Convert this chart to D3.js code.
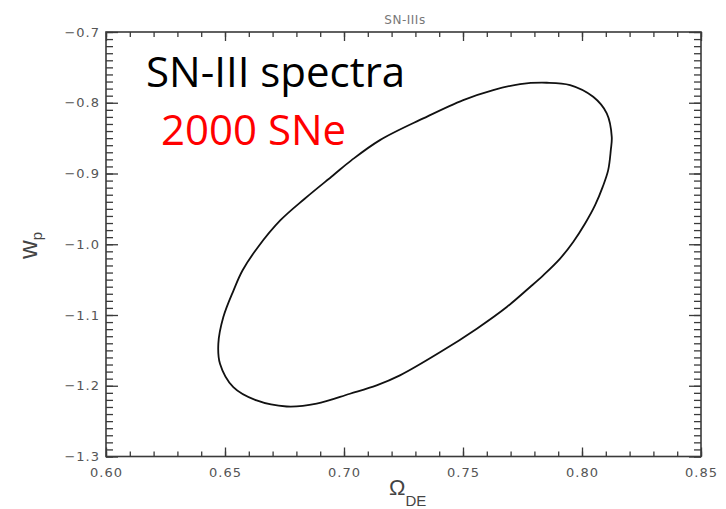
<!DOCTYPE html>
<html>
<head>
<meta charset="utf-8">
<script src="https://cdn.jsdelivr.net/npm/d3@7"></script>
<style>
  html, body { margin: 0; padding: 0; background: #fff; }
  svg { display: block; }
</style>
</head>
<body>
<svg id="chart" width="726" height="509"></svg>
<script>
// Confidence contour in the (Omega_DE, w_p) plane
const contourOmega = [0.7852, 0.7950, 0.8047, 0.8104, 0.8125, 0.8121, 0.8110, 0.8087, 0.8055,
  0.8013, 0.7963, 0.7908, 0.7837, 0.7782, 0.7684, 0.7558, 0.7403, 0.7235, 0.7137, 0.7025,
  0.6885, 0.6759, 0.6633, 0.6535, 0.6479, 0.6472, 0.6493, 0.6536, 0.6574, 0.6639, 0.6733,
  0.6836, 0.6955, 0.7032, 0.7151, 0.7333, 0.7501, 0.7627, 0.7740];
const contourW = [-0.7717, -0.7750, -0.7916, -0.8150, -0.8482, -0.8670, -0.8953, -0.9189, -0.9448,
  -0.9707, -0.9968, -1.0202, -1.0439, -1.0604, -1.0887, -1.1193, -1.1528, -1.1854, -1.1995, -1.2113,
  -1.2254, -1.2293, -1.2208, -1.2019, -1.1688, -1.1405, -1.1029, -1.0651, -1.0368, -1.0038, -0.9660,
  -0.9353, -0.9024, -0.8811, -0.8528, -0.8221, -0.7962, -0.7821, -0.7736];

const xMajorTicks = [0.60, 0.65, 0.70, 0.75, 0.80, 0.85];
const yMajorTicks = [-1.3, -1.2, -1.1, -1.0, -0.9, -0.8, -0.7];
const xMinorTicks = d3.range(0, 26).map(i => +(0.60 + i * 0.01).toFixed(2));
const yMinorTicks = d3.range(0, 61).map(i => +(-1.3 + i * 0.01).toFixed(2));

const plotTitle = "SN-IIIs";
const noteLine1 = "SN-III spectra";
const noteLine2 = "2000 SNe";

const plotLeft = 106, plotRight = 701, plotTop = 32, plotBottom = 456.5;
const svg = d3.select("#chart");

const x = d3.scaleLinear().domain([0.60, 0.85]).range([plotLeft, plotRight]);
const y = d3.scaleLinear().domain([-1.3, -0.7]).range([plotBottom, plotTop]);

const axisColor = "#3a3a3a";
const labelColor = "#555";
const fmt2 = d3.format(".2f");
const fmt1 = d => d3.format(".1f")(d).replace("-", "\u2212");

function styleAxis(g) {
  g.select(".domain").remove();
  g.selectAll(".tick line").attr("stroke", axisColor).attr("stroke-width", 1.3);
  g.selectAll(".tick text")
    .attr("fill", labelColor)
    .style("font-family", "'DejaVu Sans', sans-serif")
    .style("font-size", "13px")
    .style("letter-spacing", "1px");
}

// minor ticks on all four sides
svg.append("g").attr("transform", `translate(0,${plotBottom})`)
  .call(d3.axisBottom(x).tickValues(xMinorTicks).tickSize(-5).tickFormat(""))
  .call(styleAxis);
svg.append("g").attr("transform", `translate(0,${plotTop})`)
  .call(d3.axisTop(x).tickValues(xMinorTicks).tickSize(-5).tickFormat(""))
  .call(styleAxis);
svg.append("g").attr("transform", `translate(${plotLeft},0)`)
  .call(d3.axisLeft(y).tickValues(yMinorTicks).tickSize(-7).tickFormat(""))
  .call(styleAxis);
svg.append("g").attr("transform", `translate(${plotRight},0)`)
  .call(d3.axisRight(y).tickValues(yMinorTicks).tickSize(-7).tickFormat(""))
  .call(styleAxis);

// major ticks and labels
svg.append("g").attr("transform", `translate(0,${plotBottom})`)
  .call(d3.axisBottom(x).tickValues(xMajorTicks).tickSize(-9).tickPadding(11.5).tickFormat(fmt2))
  .call(styleAxis);
svg.append("g").attr("transform", `translate(0,${plotTop})`)
  .call(d3.axisTop(x).tickValues(xMajorTicks).tickSize(-9).tickFormat(""))
  .call(styleAxis);
svg.append("g").attr("transform", `translate(${plotLeft},0)`)
  .call(d3.axisLeft(y).tickValues(yMajorTicks).tickSize(-12).tickPadding(6).tickFormat(fmt1))
  .call(styleAxis);
svg.append("g").attr("transform", `translate(${plotRight},0)`)
  .call(d3.axisRight(y).tickValues(yMajorTicks).tickSize(-12).tickFormat(""))
  .call(styleAxis);

// plot frame
svg.append("rect")
  .attr("x", plotLeft).attr("y", plotTop)
  .attr("width", plotRight - plotLeft).attr("height", plotBottom - plotTop)
  .attr("fill", "none").attr("stroke", axisColor).attr("stroke-width", 1.6);

// contour
const pts = contourOmega.map((o, i) => [o, contourW[i]]);
svg.append("path")
  .datum(pts)
  .attr("d", d3.line().x(d => x(d[0])).y(d => y(d[1])).curve(d3.curveCatmullRomClosed.alpha(0.5)))
  .attr("fill", "none")
  .attr("stroke", "#111")
  .attr("stroke-width", 1.8);

// title
svg.append("text")
  .attr("x", 405).attr("y", 24)
  .attr("text-anchor", "middle")
  .attr("fill", "#777")
  .style("font-family", "'DejaVu Sans', sans-serif")
  .style("font-size", "12px")
  .style("letter-spacing", "0.5px")
  .text(plotTitle);

// axis titles
const xt = svg.append("text")
  .attr("x", 389).attr("y", 495)
  .attr("fill", "#444")
  .style("font-family", "'Liberation Sans', Arial, sans-serif");
xt.append("tspan").style("font-size", "22px").text("\u03A9");
xt.append("tspan").attr("dy", 11).style("font-size", "15px").text("DE");

const yt = svg.append("text")
  .attr("transform", "translate(37,259) rotate(-90)")
  .attr("fill", "#444")
  .style("font-family", "'Liberation Sans', Arial, sans-serif");
yt.append("tspan").style("font-size", "26px").text("w");
yt.append("tspan").attr("dy", 5).style("font-size", "15px").text("p");

// annotations
svg.append("text")
  .attr("x", 146).attr("y", 86.5)
  .attr("fill", "#000")
  .style("font-family", "'Open Sans', sans-serif")
  .style("font-size", "42px")
  .text(noteLine1);
svg.append("text")
  .attr("x", 161).attr("y", 145)
  .attr("fill", "#ff0000")
  .style("font-family", "'Open Sans', sans-serif")
  .style("font-size", "42px")
  .text(noteLine2);
</script>
</body>
</html>
